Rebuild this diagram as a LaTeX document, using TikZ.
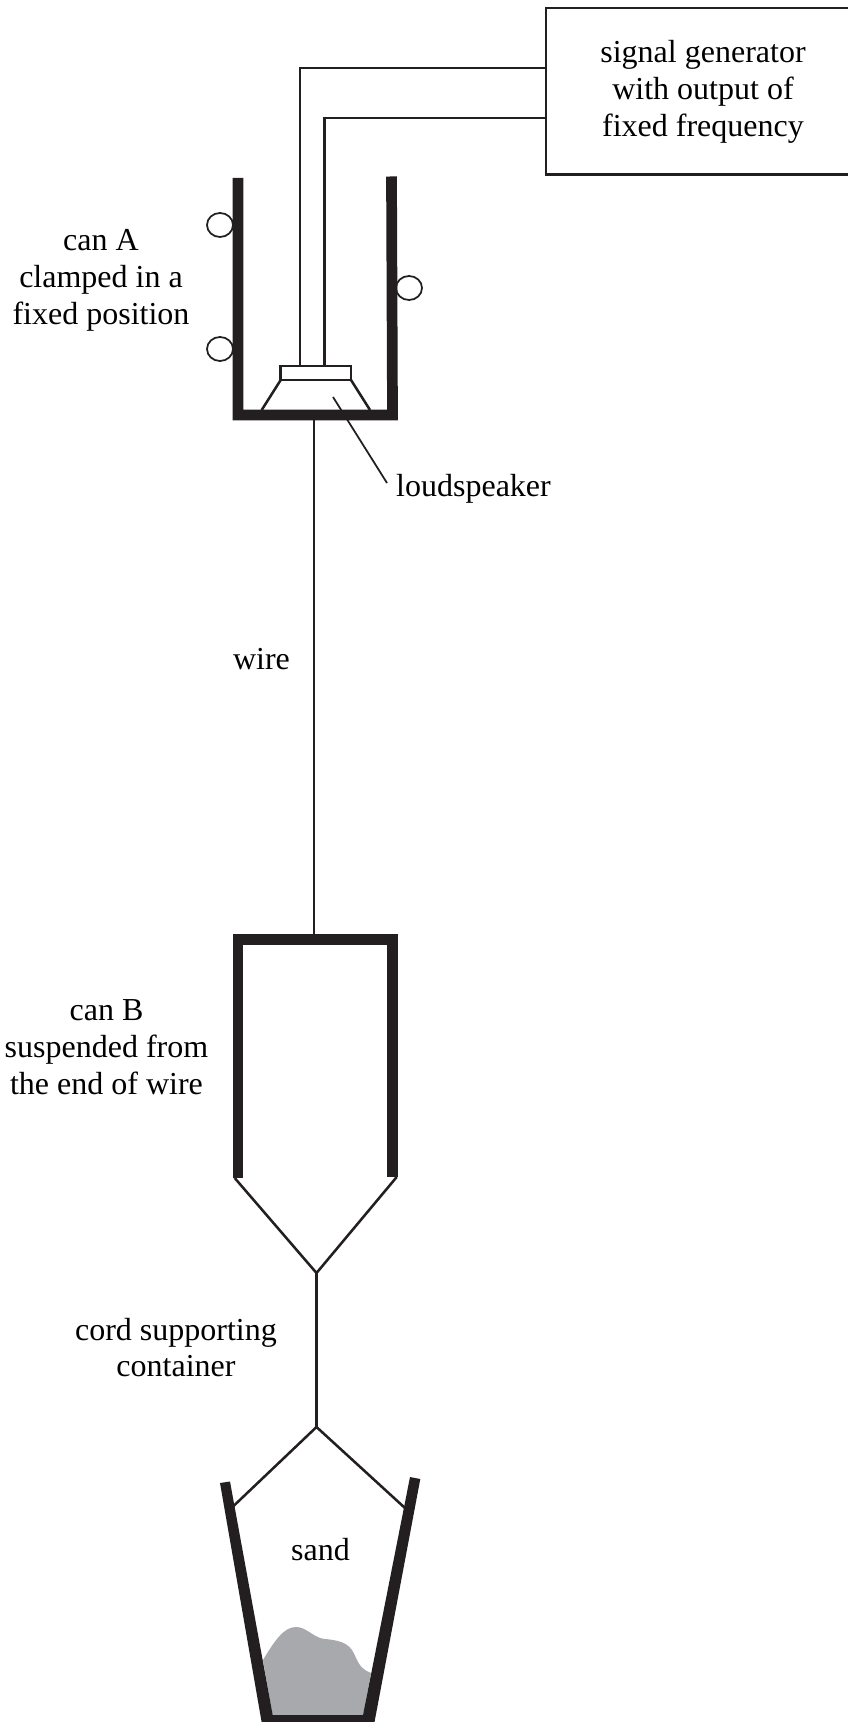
\documentclass[tikz,border=0pt]{standalone}
\usepackage{fontspec}
\setmainfont{Liberation Serif}
\definecolor{inkblack}{HTML}{231F20}
\definecolor{sandgray}{HTML}{A7A9AC}
\tikzset{
 label/.style={font=\fontsize{9.1}{10.5}\selectfont,align=center,text=black},
 thinline/.style={draw=inkblack,line width=0.72pt},
 wireline/.style={draw=inkblack,line width=0.5pt},
 canwall/.style={draw=inkblack,line width=3.05pt,miter limit=10},
}
\begin{document}
\begin{tikzpicture}[x=0.01cm,y=-0.01cm]
 \useasboundingbox (0,0) rectangle (847,1722);
 % signal generator and its two leads
 \draw[thinline] (900,8) -- (546,8) -- (546,174.5) -- (900,174.5);
 \node[label] (generator) at (703,92) {signal generator\\with output of\\fixed frequency};
 \coordinate (leadAtop) at (546,68);
 \coordinate (leadAbend) at (300,68);
 \coordinate (leadBtop) at (546,118);
 \coordinate (leadBbend) at (324.5,118);
 \coordinate (speakerA) at (300,366);
 \coordinate (speakerB) at (324.5,366);
 \draw[thinline] (leadAtop) -- (leadAbend) -- (speakerA);
 \draw[thinline] (leadBtop) -- (leadBbend) -- (speakerB);
 % clamps
 \draw[wireline] (220,225) ellipse (13 and 12);
 \draw[wireline] (220,349) ellipse (13 and 12);
 \draw[wireline] (409,288) ellipse (13 and 12);
 % can A
 \draw[canwall] (238,178) -- (238,415) -- (392.5,415) -- (391.5,176.5);
 % loudspeaker
 \draw[thinline] (280.7,366) rectangle (351,380);
 \draw[thinline] (280.7,380) -- (261.7,410);
 \draw[thinline] (351,380) -- (370,410);
 \node[label] (speakerlabel) at (473.5,488.5) {loudspeaker};
 \coordinate (speakerend) at (333,397);
 \coordinate (speakerfoot) at (387,483);
 \draw[wireline] (speakerend) -- (speakerfoot);
 % wire and can B
 \coordinate (canAbase) at (314,420);
 \coordinate (canBtop) at (314,935);
 \draw[thinline] (canAbase) -- (canBtop);
 \node[label] (wirelabel) at (261.5,659) {wire};
 \node[label] (canAlabel) at (101,280) {can A\\clamped in a\\fixed position};
 \node[label] (canBlabel) at (106.5,1047) {can B\\suspended from\\the end of wire};
 \draw[canwall] (238,1178) -- (238,939.5) -- (392.5,939.5) -- (392.5,1177);
 % cone, cord and container
 \coordinate (coneleft) at (234.7,1178);
 \coordinate (coneright) at (396.7,1177);
 \coordinate (conetip) at (316.5,1273);
 \coordinate (cordend) at (316.5,1427);
 \coordinate (hookleft) at (233.5,1506);
 \coordinate (hookright) at (405,1508);
 \draw[thinline] (coneleft) -- (conetip) -- (coneright);
 \draw[thinline] (conetip) -- (cordend);
 \draw[thinline] (hookleft) -- (cordend) -- (hookright);
 \node[label] (cordlabel) at (176,1347.5) {cord supporting\\container};
 \node[label] (sandlabel) at (320.5,1550) {sand};
 % sand
 \fill[sandgray] (263,1660) .. controls (275,1640) and (284,1627) .. (296,1627)
   .. controls (306,1627) and (312,1636) .. (322,1638.5)
   .. controls (332,1640) and (345,1640) .. (352,1650)
   .. controls (358,1660) and (358,1668) .. (371,1673)
   -- (363,1716) -- (272.7,1716) -- cycle;
 % container walls
 \fill[inkblack] (220,1483) -- (230,1481.5) -- (272.7,1715) -- (363,1715) -- (410,1477) -- (420.3,1479)
   -- (373,1730) -- (263,1730) -- cycle;
\end{tikzpicture}
\end{document}
